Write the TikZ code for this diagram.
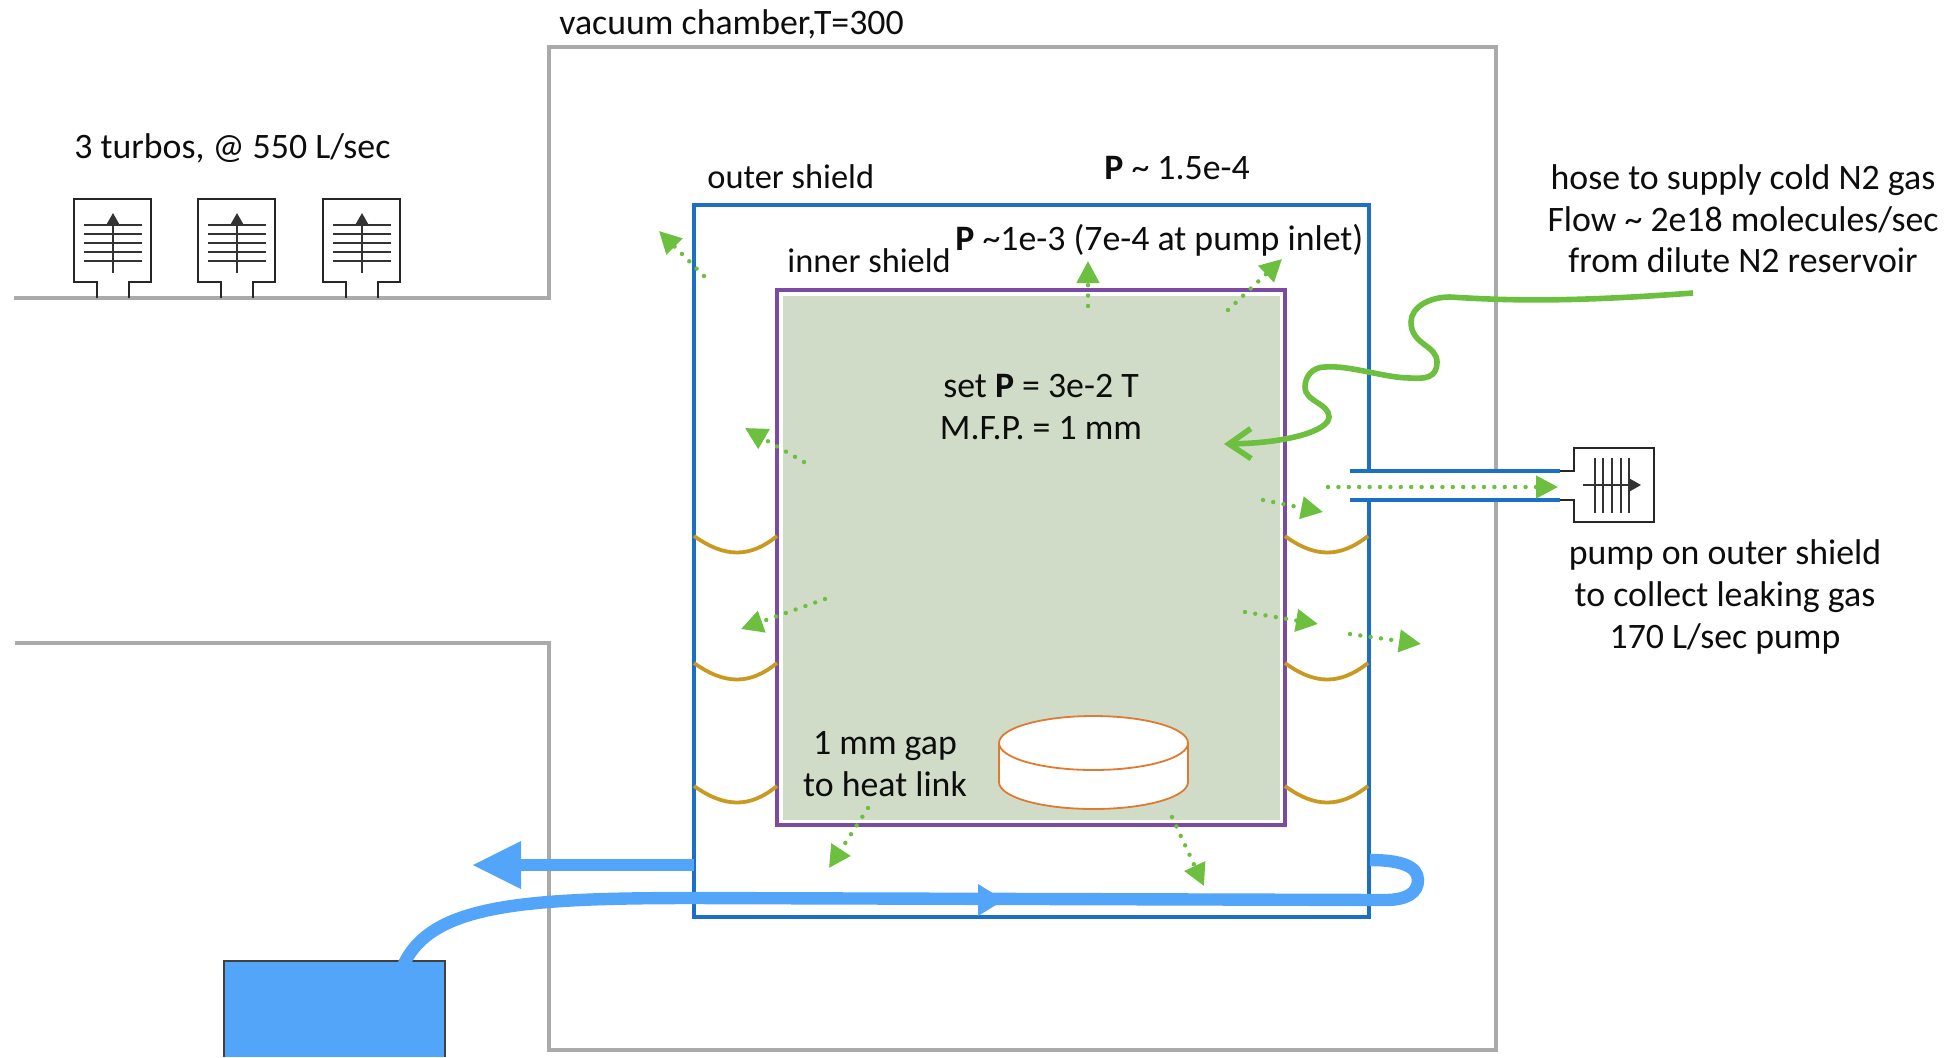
\documentclass[tikz,border=0pt]{standalone}
\usepackage{fontspec}
\setmainfont{Carlito}
\usetikzlibrary{arrows.meta}
\definecolor{chambergray}{HTML}{A9ABA9}
\definecolor{shieldblue}{HTML}{1B6FC6}
\definecolor{shieldpurple}{HTML}{7B4AA3}
\definecolor{gaspanel}{HTML}{D0DCC8}
\definecolor{bellowgold}{HTML}{C89A22}
\definecolor{leakgreen}{HTML}{6CBF3F}
\definecolor{pipeblue}{HTML}{52A5F8}
\definecolor{heatorange}{HTML}{E07A30}
\tikzset{
  chamberline/.style={draw=chambergray,line width=2pt,line join=miter},
  outerline/.style={draw=shieldblue,line width=2pt},
  innerline/.style={draw=shieldpurple,line width=2.2pt},
  bellows/.style={draw=bellowgold,line width=1.9pt},
  leak/.style={draw=leakgreen,line width=2.2pt,line cap=round,dash pattern=on 0pt off 5.2pt,
    -{Triangle[length=11pt,width=11pt,fill=leakgreen]}},
  hose/.style={draw=leakgreen,line width=2.8pt,-{Straight Barb[length=11pt,width=15pt,line width=2.8pt]}},
  pipeline/.style={draw=pipeblue,line width=6.2pt},
  pumpline/.style={draw=black!85,line width=1.3pt},
  finline/.style={draw=black!80,line width=1.1pt},
  lbl/.style={inner sep=0pt,font=\fontsize{17.9}{20.8}\selectfont,text=black!95},
  shieldlbl/.style={lbl,font=\fontsize{17.2}{20.8}\selectfont},
  mlbl/.style={lbl,align=center}
}
\begin{document}
\begin{tikzpicture}[x=0.5pt,y=-0.5pt]
\useasboundingbox (0,0) rectangle (1949,1057);
% chamber
\draw[chamberline] (14,298) -- (549,298) -- (549,47) -- (1496,47) -- (1496,471);
\draw[chamberline] (1496,500) -- (1496,1050) -- (549,1050) -- (549,643) -- (15,643);
% inner shield
\fill[gaspanel] (783,296) rectangle (1280,820);
\draw[innerline] (777,290) rectangle (1285,825);
% outer shield
\draw[outerline] (1368.5,471) -- (1368.5,205) -- (694,205) -- (694,917) -- (1368.5,917) -- (1368.5,500);
% bellows
\foreach \yb in {536,663,786}{
  \draw[bellows] (694,\yb) .. controls (725,\yb+22) and (750,\yb+22) .. (777,\yb);
  \draw[bellows] (1285,\yb) .. controls (1315,\yb+22) and (1340,\yb+22) .. (1368,\yb);
}
% heat link cylinder
\draw[draw=heatorange,line width=.9pt,fill=white] (999,743) -- (999,782) .. controls (999,797) and (1041,809) .. (1093.5,809) .. controls (1146,809) and (1188,797) .. (1188,782) -- (1188,743);
\draw[draw=heatorange,line width=.9pt,fill=white] (1093.5,743) ellipse [x radius=94.5,y radius=27];
% turbos
\foreach \dx in {0,124,249}{
  \draw[pumpline] (97+\dx,298) -- (97+\dx,282) -- (74+\dx,282) -- (74+\dx,199) -- (151+\dx,199) -- (151+\dx,282) -- (129+\dx,282) -- (129+\dx,298);
  \foreach \yl in {225,234,243,252,261}
    \draw[finline] (84+\dx,\yl) -- (142+\dx,\yl);
  \draw[finline,-{Triangle[length=6pt,width=6.5pt]}] (113+\dx,273) -- (113+\dx,213);
}
% side pump
\draw[pumpline] (1558,471) -- (1574,471) -- (1574,448) -- (1654,448) -- (1654,522) -- (1574,522) -- (1574,500) -- (1558,500);
\foreach \xl in {1595,1603,1612,1621,1629}
  \draw[finline] (\xl,458) -- (\xl,513);
\draw[finline,-{Triangle[length=6pt,width=6.5pt]}] (1583,485) -- (1641,485);
\draw[outerline,line width=1.8pt] (1350,471) -- (1560,471);
\draw[outerline,line width=1.8pt] (1350,500) -- (1560,500);
% leak arrows
\foreach \sx/\sy/\ex/\ey in {704/276/659/231, 804/462/745/428, 825/599/741/629, 868/808/829/868, 1172/817/1204/886, 1088/306/1088/261, 1228/310/1282/259, 1263/500/1323/512, 1245/612/1318/624, 1350/634/1421/644, 1328/487/1558/487}{
  \draw[leak] (\sx,\sy) -- (\ex,\ey);
}
% hose
\coordinate (hosestart) at (1693,293);
\coordinate (hoseend) at (1224,444);
\draw[hose] (hosestart) .. controls (1560,303) and (1500,300) .. (1450,297)
  .. controls (1428,297) and (1411,308) .. (1411,322)
  .. controls (1411,345) and (1437,345) .. (1437,362)
  .. controls (1437,378) and (1425,379) .. (1410,378)
  .. controls (1385,378) and (1350,365) .. (1325,367)
  .. controls (1312,367) and (1305,377) .. (1305,387)
  .. controls (1305,402) and (1329,403) .. (1329,417)
  .. controls (1329,430) and (1290,443) .. (hoseend);
% reservoir and pipes
\fill[pipeblue] (224,961) rectangle (445,1057);
\draw[draw=black!75,line width=1pt] (224,1057) -- (224,961) -- (445,961) -- (445,1057);
\coordinate (pipeout) at (403,966);
\coordinate (loopend) at (1370,860);
\draw[pipeline] (pipeout) .. controls (430,905) and (520,898) .. (694,898) -- (1385,900)
  .. controls (1408,900) and (1418,892) .. (1418,880) .. controls (1418,866) and (1400,860) .. (loopend);
\fill[pipeblue] (978,884) -- (1004,900) -- (978,916) -- cycle;
\coordinate (ventstart) at (694,865);
\coordinate (venthead) at (521,865);
\draw[pipeline] (ventstart) -- (venthead);
\fill[pipeblue] (521,841) -- (473,865) -- (521,889) -- cycle;
% labels
\node[lbl,anchor=west] (chamberlbl) at (559,24) {vacuum chamber,T=300};
\node[lbl,anchor=west] (turbolbl) at (74,148) {3 turbos, @ 550 L/sec};
\node[shieldlbl,anchor=west] (outerlbl) at (707,177) {outer shield};
\node[lbl,anchor=west] (outerp) at (1104,168) {\textbf{P} \textasciitilde{} 1.5e-4};
\node[lbl,anchor=west] (innerp) at (955,240) {\textbf{P} \textasciitilde 1e-3 (7e-4 at pump inlet)};
\node[shieldlbl,anchor=west] (innerlbl) at (787,261) {inner shield};
\node[mlbl] (setlbl) at (1041,407) {set \textbf{P} = 3e-2 T\\M.F.P. = 1 mm};
\node[mlbl] (gaplbl) at (885,764) {1 mm gap\\to heat link};
\node[mlbl] (hoselbl) at (1743,219) {hose to supply cold N2 gas\\Flow \textasciitilde{} 2e18 molecules/sec\\from dilute N2 reservoir};
\node[mlbl] (pumplbl) at (1725,597) {pump on outer shield\\to collect leaking gas\\170 L/sec pump};
\end{tikzpicture}
\end{document}
